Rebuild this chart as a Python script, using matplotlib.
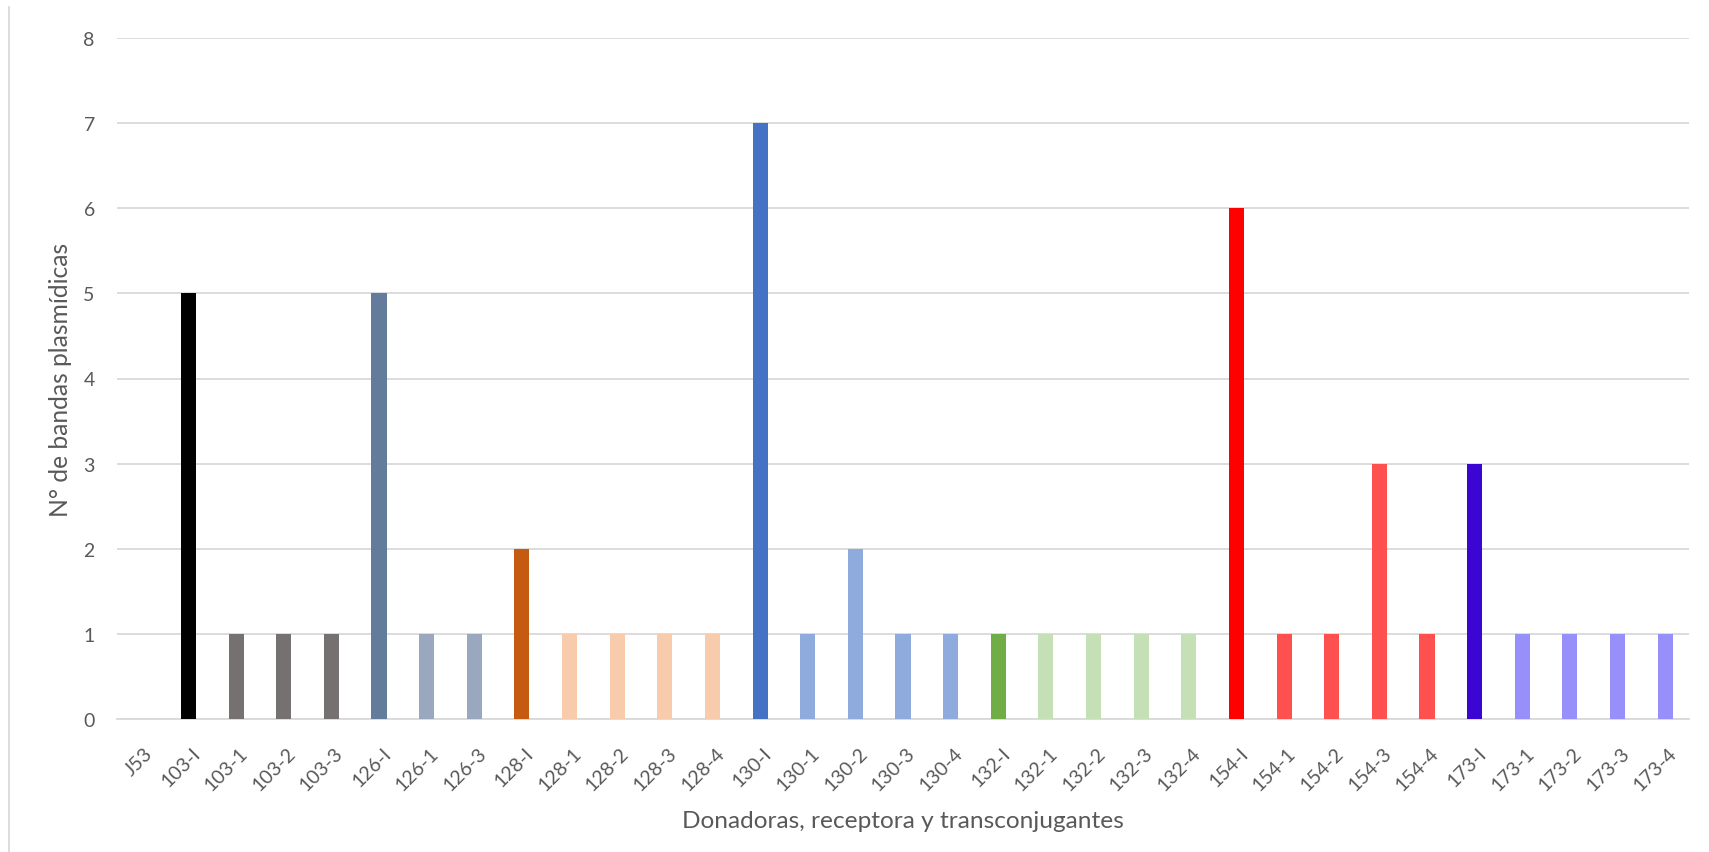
import matplotlib
matplotlib.use("Agg")
import matplotlib.pyplot as plt
import matplotlib.transforms as mtransforms
from matplotlib.lines import Line2D

categories = ["J53", "103-I", "103-1", "103-2", "103-3", "126-I", "126-1", "126-3",
              "128-I", "128-1", "128-2", "128-3", "128-4", "130-I", "130-1", "130-2",
              "130-3", "130-4", "132-I", "132-1", "132-2", "132-3", "132-4", "154-I",
              "154-1", "154-2", "154-3", "154-4", "173-I", "173-1", "173-2", "173-3",
              "173-4"]
bands = [0, 5, 1, 1, 1, 5, 1, 1,
         2, 1, 1, 1, 1, 7, 1, 2,
         1, 1, 1, 1, 1, 1, 1, 6,
         1, 1, 3, 1, 3, 1, 1, 1,
         1]
bar_colors = ["#FFFFFF", "#000000", "#767171", "#767171", "#767171", "#637C9B", "#9AA8BF", "#9AA8BF",
              "#C55A11", "#F8CBAD", "#F8CBAD", "#F8CBAD", "#F8CBAD", "#4472C4", "#8FAADC", "#8FAADC",
              "#8FAADC", "#8FAADC", "#70AD47", "#C5E0B4", "#C5E0B4", "#C5E0B4", "#C5E0B4", "#FF0000",
              "#FF5050", "#FF5050", "#FF5050", "#FF5050", "#3C06D2", "#978FFA", "#978FFA", "#978FFA",
              "#978FFA"]
y_ticks = [0, 1, 2, 3, 4, 5, 6, 7, 8]

plt.rcParams["font.family"] = ["Lato", "DejaVu Sans"]
text_color = "#595959"
grid_color = "#D9D9D9"

W, H = 1709, 853
fig = plt.figure(figsize=(W / 100, H / 100), dpi=100)
ax = fig.add_axes([117 / W, 1 - 720 / H, (1689 - 117) / W, (720 - 39) / H])

x = list(range(len(categories)))
ax.bar(x, bands, width=0.315, color=bar_colors, zorder=3)

ax.set_xlim(-0.5, len(categories) - 0.5)
ax.set_ylim(0, 8)
ax.set_yticks(y_ticks)
ax.yaxis.grid(True, color=grid_color, linewidth=1.3, zorder=0)
ax.set_axisbelow(True)
for s in ["top", "right", "left"]:
    ax.spines[s].set_visible(False)
ax.spines["bottom"].set_color(grid_color)
ax.spines["bottom"].set_linewidth(1.3)

ax.tick_params(axis="both", length=0, colors=text_color, labelsize=14)
ax.tick_params(axis="y", pad=16)
ax.set_xticks(x)
ax.set_xticklabels(categories, rotation=45, ha="right", va="top",
                   rotation_mode="anchor", fontsize=14)
ax.tick_params(axis="x", pad=18)
shift = mtransforms.ScaledTranslation(3 / 100, 0, fig.dpi_scale_trans)
for lbl in ax.get_xticklabels():
    lbl.set_transform(lbl.get_transform() + shift)

ax.set_ylabel("N° de bandas plasmídicas", fontsize=17.7, color=text_color)
ax.yaxis.set_label_coords(72 / W, 1 - 380 / H, transform=fig.transFigure)

fig.text(903 / W, 1 - 822 / H, "Donadoras, receptora y transconjugantes",
         fontsize=17.6, color=text_color, ha="center", va="center")

# left edge of the chart frame
fig.add_artist(Line2D([9 / W, 9 / W], [0, 1 - 8 / H], color=grid_color,
                      linewidth=1.3, transform=fig.transFigure))

fig.savefig("out.png", dpi=100, facecolor="white")
